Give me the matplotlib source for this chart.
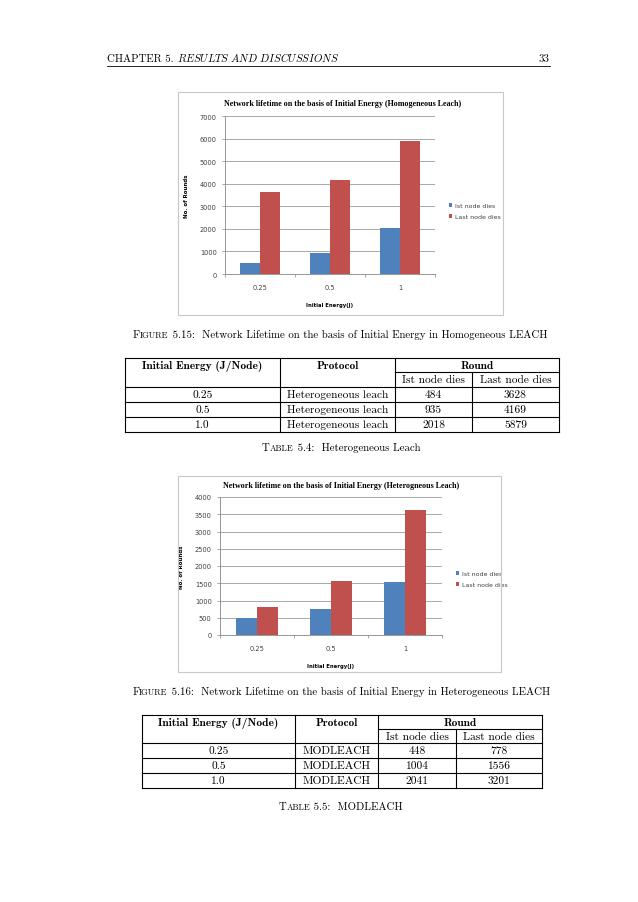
import matplotlib.pyplot as plt
from matplotlib.lines import Line2D
from matplotlib.patches import Rectangle

W, H = 638, 903

# chart data
energy_labels = ['0.25', '0.5', '1']
homo_first = [484, 935, 2018]
homo_last = [3628, 4169, 5879]
hetero_first = [480, 750, 1530]
hetero_last = [800, 1570, 3620]

# table data
table_energy = ['0.25', '0.5', '1.0']
t4_protocol = ['Heterogeneous leach'] * 3
t4_first = ['484', '935', '2018']
t4_last = ['3628', '4169', '5879']
t5_protocol = ['MODLEACH'] * 3
t5_first = ['448', '1004', '2041']
t5_last = ['778', '1556', '3201']

BLUE = '#4f81bd'
RED = '#c0504d'
TS = 8.2   # table text size
CS = 7.8   # caption / header size

plt.rcParams['mathtext.fontset'] = 'cm'

fig = plt.figure(figsize=(W / 100, H / 100), dpi=100)
fig.patch.set_facecolor('white')


def fx(x):
    return x / W


def fy(y):
    return 1 - y / H


def hline(x0, x1, y, lw=0.8, color='black'):
    fig.add_artist(Line2D([fx(x0), fx(x1)], [fy(y), fy(y)], lw=lw, color=color))


def vline(x, y0, y1, lw=0.8, color='black'):
    fig.add_artist(Line2D([fx(x), fx(x)], [fy(y0), fy(y1)], lw=lw, color=color))


def txt(x, y, s, size=TS, family='cmr10', ha='center', **kw):
    return fig.text(fx(x), fy(y), s, fontsize=size, family=family,
                    ha=ha, va='center', **kw)


def pieces(x, y, parts, align='center'):
    # draw a run of text pieces (for small caps / mixed styles)
    r = fig.canvas.get_renderer()
    arts = []
    cur = 0.0
    for s, size, fam in parts:
        t = fig.text(0, fy(y), s, fontsize=size, family=fam, ha='left', va='baseline')
        w = t.get_window_extent(renderer=r).width
        arts.append((t, cur))
        cur += w
    if align == 'center':
        start = x - cur / 2
    else:
        start = x
    for t, off in arts:
        t.set_x(fx(start + off))


def bar_chart(box, plot, values1, values2, ymax, ystep, title, title_y, legend_y):
    x0, y0, x1, y1 = box
    fig.add_artist(Rectangle((fx(x0), fy(y1)), fx(x1) - fx(x0), fy(y0) - fy(y1),
                             transform=fig.transFigure, fill=False,
                             edgecolor='#c8c8c8', lw=0.8))
    px0, py0, px1, py1 = plot
    ax = fig.add_axes([fx(px0), fy(py1), fx(px1) - fx(px0), fy(py0) - fy(py1)])
    pos = range(len(energy_labels))
    w = 0.29
    ax.bar([p - w / 2 for p in pos], values1, w, color=BLUE, label='Ist node dies', zorder=3)
    ax.bar([p + w / 2 for p in pos], values2, w, color=RED, label='Last node dies', zorder=3)
    ax.set_xlim(-0.5, 2.5)
    ax.set_ylim(0, ymax)
    ax.set_yticks(range(0, ymax + 1, ystep))
    ax.set_xticks(list(pos))
    ax.set_xticklabels(energy_labels)
    ax.set_xticks([-0.5, 0.5, 1.5, 2.5], minor=True)
    ax.tick_params(axis='x', which='major', length=0, labelsize=4.8, pad=7, colors='#404040')
    ax.tick_params(axis='x', which='minor', length=2.5, width=0.5, color='#868686')
    ax.tick_params(axis='y', length=2.5, width=0.5, color='#868686', labelsize=4.8,
                   labelcolor='#404040')
    ax.grid(axis='y', color='#868686', lw=0.5, zorder=0)
    for s in ['top', 'right']:
        ax.spines[s].set_visible(False)
    for s in ['left', 'bottom']:
        ax.spines[s].set_color('#868686')
        ax.spines[s].set_linewidth(0.6)
    ax.set_xlabel('Initial Energy(J)', fontsize=3.8, fontweight='bold', labelpad=9)
    ax.set_ylabel('No. of Rounds', fontsize=4, fontweight='bold', labelpad=8)
    fig.text(fx((x0 + x1) / 2 + 2), fy(title_y), title, fontsize=5.8, fontweight='bold',
             family='Liberation Serif', ha='center', va='center')
    ax.legend(loc='center left', bbox_to_anchor=(fx(px1 + 8), fy(legend_y)),
              bbox_transform=fig.transFigure, frameon=False, fontsize=4.5,
              handlelength=0.6, handleheight=0.6, handletextpad=0.4, labelspacing=0.9,
              labelcolor='#404040')
    return ax


def table(xs, xr, ys, first_col, protocol, first, last):
    # xs: column edges, xr: split inside "Round", ys: row edges
    xl, xa, xb, xrr = xs
    yt, ym, yh, r1, r2, yb = ys
    for y in [yt, yh, r1, r2, yb]:
        hline(xl, xrr, y)
    hline(xb, xrr, ym)
    for x in [xl, xa, xb, xrr]:
        vline(x, yt, yb)
    vline(xr, ym, yb)
    yc = (yt + ym) / 2 + 0.5
    txt((xl + xa) / 2, yc, 'Initial Energy (J/Node)', family='cmb10')
    txt((xa + xb) / 2, yc, 'Protocol', family='cmb10')
    txt((xb + xrr) / 2, yc, 'Round', family='cmb10')
    ys2 = (ym + yh) / 2
    txt((xb + xr) / 2, ys2, 'Ist node dies')
    txt((xr + xrr) / 2, ys2, 'Last node dies')
    rows = [yh, r1, r2, yb]
    for i in range(3):
        yc = (rows[i] + rows[i + 1]) / 2
        txt((xl + xa) / 2, yc, first_col[i])
        txt((xa + xb) / 2, yc, protocol[i])
        txt((xb + xr) / 2, yc, first[i])
        txt((xr + xrr) / 2, yc, last[i])


# page header
pieces(107, 62, [('CHAPTER 5. ', CS, 'cmr10'),
                 (r'$\mathit{RESULTS\ AND\ DISCUSSIONS}$', CS, 'cmr10')], align='left')
fig.text(fx(550), fy(62), '33', fontsize=CS, family='cmr10', ha='right', va='baseline')
hline(107, 550, 67, lw=0.6)

# figure 5.15
bar_chart((178, 93, 503, 316), (225, 117, 435, 275), homo_first, homo_last, 7000, 1000,
          'Network lifetime on the basis of Initial Energy (Homogeneous Leach)', 104, 212)
pieces(340, 338, [('F', CS, 'cmr10'), ('IGURE', CS * 0.8, 'cmr10'),
                  (' 5.15:  Network Lifetime on the basis of Initial Energy in Homogeneous LEACH',
                   CS, 'cmr10')])

table((125, 280, 395, 559), 472, (359, 373, 388, 403, 418, 433),
      table_energy, t4_protocol, t4_first, t4_last)
pieces(341, 451, [('T', CS, 'cmr10'), ('ABLE', CS * 0.8, 'cmr10'),
                  (' 5.4:  Heterogeneous Leach', CS, 'cmr10')])

# figure 5.16
bar_chart((178, 477, 501, 673), (220, 498, 442, 636), hetero_first, hetero_last, 4000, 500,
          'Network lifetime on the basis of Initial Energy (Heterogneous Leach)', 486, 580)
pieces(341, 695, [('F', CS, 'cmr10'), ('IGURE', CS * 0.8, 'cmr10'),
                  (' 5.16:  Network Lifetime on the basis of Initial Energy in Heterogeneous LEACH',
                   CS, 'cmr10')])

table((142, 295, 378, 542), 456, (716, 730, 744, 759, 774, 789),
      table_energy, t5_protocol, t5_first, t5_last)
pieces(341, 810, [('T', CS, 'cmr10'), ('ABLE', CS * 0.8, 'cmr10'),
                  (' 5.5:  MODLEACH', CS, 'cmr10')])

fig.savefig('out.png', dpi=100)
